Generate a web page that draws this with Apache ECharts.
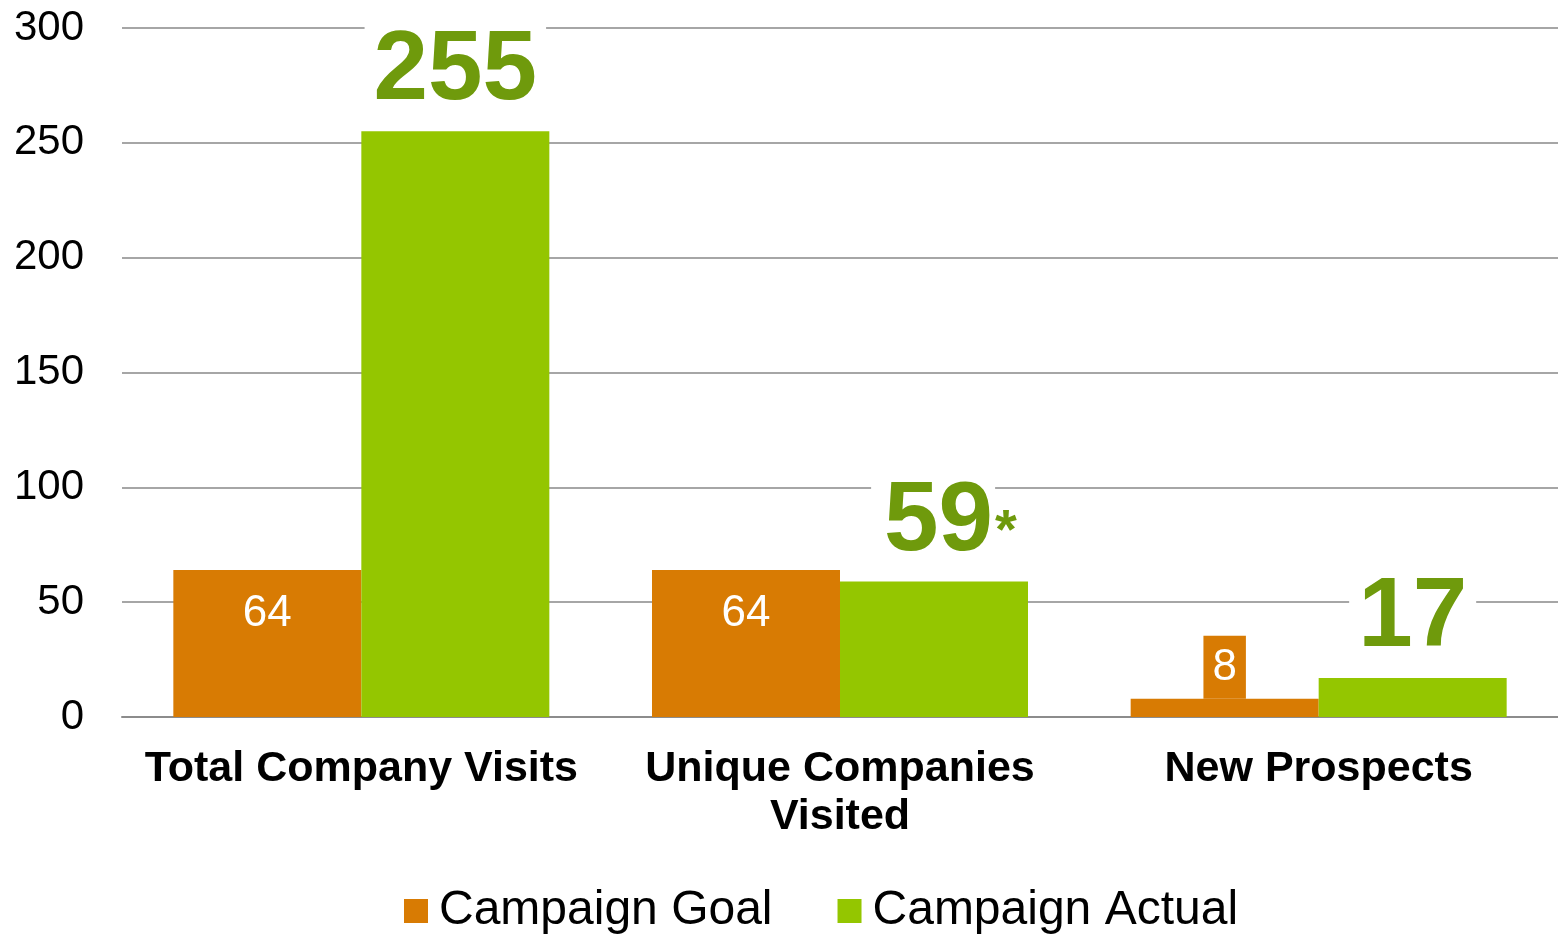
<!DOCTYPE html>
<html>
<head>
<meta charset="utf-8">
<script src="https://cdn.jsdelivr.net/npm/echarts@6/dist/echarts.min.js"></script>
<style>
  html, body { margin: 0; padding: 0; background: #fff; }
  #main { width: 1558px; height: 934px; }
</style>
</head>
<body>
<div id="main"></div>
<script>
var categories = ['Total Company Visits', 'Unique Companies\nVisited', 'New Prospects'];
var goalValues = [64, 64, 8];
var actualValues = [255, 59, 17];
var actualNotes = ['', '*', ''];
var seriesNames = ['Campaign Goal', 'Campaign Actual'];

var ORANGE = '#D87B03';
var GREEN = '#94C600';
var LABEL_GREEN = '#6F9A0C';
var FONT = '"Liberation Sans", Arial, sans-serif';

var chart = echarts.init(document.getElementById('main'));

// small values get their label lifted above the bar in an orange box
var goalData = goalValues.map(function (v) {
  if (v >= 20) return v;
  return {
    value: v,
    label: {
      position: 'top',
      distance: 0,
      backgroundColor: ORANGE,
      padding: [10, 9, 9, 9]
    }
  };
});

// a note (asterisk) sits right after the number, the number stays centred on the bar
var actualData = actualValues.map(function (v, i) {
  if (!actualNotes[i]) return v;
  return { value: v, label: { offset: [10, 0] } };
});

chart.setOption({
  animation: false,
  textStyle: { fontFamily: FONT },
  grid: { left: 122, width: 1440, top: 28, bottom: 217 },
  legend: {
    data: seriesNames,
    left: 399,
    top: 882,
    icon: 'rect',
    itemWidth: 24,
    itemHeight: 24,
    itemGap: 65,
    textStyle: { fontSize: 48, color: '#000', fontFamily: FONT, padding: [0, 0, 0, 6] }
  },
  xAxis: {
    type: 'category',
    data: categories,
    axisTick: { show: false },
    axisLine: { lineStyle: { color: '#8c8c8c', width: 2 } },
    axisLabel: {
      interval: 0,
      margin: 28,
      color: '#000',
      fontSize: 43,
      fontWeight: 'bold',
      lineHeight: 48,
      fontFamily: FONT
    }
  },
  yAxis: {
    type: 'value',
    min: 0,
    max: 300,
    interval: 50,
    axisLine: { show: false },
    axisTick: { show: false },
    axisLabel: { color: '#000', fontSize: 42, margin: 38, fontFamily: FONT },
    splitLine: { lineStyle: { color: '#a6a6a6', width: 2 } }
  },
  series: [
    {
      name: seriesNames[0],
      type: 'bar',
      data: goalData,
      barWidth: 188,
      barGap: '0%',
      itemStyle: { color: ORANGE },
      label: {
        show: true,
        position: 'insideTop',
        distance: 22,
        color: '#fff',
        fontSize: 44,
        fontFamily: FONT
      }
    },
    {
      name: seriesNames[1],
      type: 'bar',
      data: actualData,
      barWidth: 188,
      itemStyle: { color: GREEN },
      z: 3,
      label: {
        show: true,
        position: 'top',
        distance: 2,
        formatter: function (p) {
          var note = actualNotes[p.dataIndex];
          if (note) return '{n|' + p.value + '}{s|' + note + '}';
          return '{v|' + p.value + '}';
        },
        rich: {
          v: {
            fontSize: 98,
            fontWeight: 'bold',
            color: LABEL_GREEN,
            fontFamily: FONT,
            backgroundColor: '#fff',
            padding: [12, 9, 8, 9]
          },
          n: {
            fontSize: 98,
            fontWeight: 'bold',
            color: LABEL_GREEN,
            fontFamily: FONT,
            backgroundColor: '#fff',
            padding: [12, 2, 8, 13]
          },
          s: {
            fontSize: 56,
            fontWeight: 'bold',
            color: LABEL_GREEN,
            fontFamily: FONT,
            padding: [24, 0, 0, 0]
          }
        }
      }
    }
  ]
});
</script>
</body>
</html>
